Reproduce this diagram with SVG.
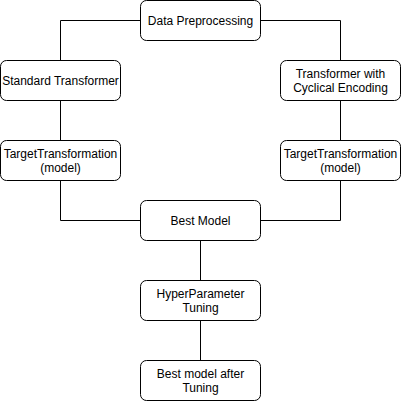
<svg xmlns="http://www.w3.org/2000/svg" width="401" height="401" viewBox="0 0 401 401">
<style>
.box{fill:#fff;stroke:#000;stroke-width:1}
.lbl{font-family:"Liberation Sans",Arial,sans-serif;font-size:12px;fill:#000;text-anchor:middle}
.edge{fill:none;stroke:#000;stroke-width:1}
</style>
<rect width="401" height="401" fill="#fff"/>
<g id="connectors">
<path class="edge" d="M140.5 20.5H60.5V60.5"/>
<path class="edge" d="M260.5 20.5H340.5V60.5"/>
<path class="edge" d="M60.5 100.5V140.5"/>
<path class="edge" d="M340.5 100.5V140.5"/>
<path class="edge" d="M60.5 180.5V220.5H140.5"/>
<path class="edge" d="M340.5 180.5V220.5H260.5"/>
<path class="edge" d="M200.5 240.5V280.5"/>
<path class="edge" d="M200.5 320.5V360.5"/>
</g>
<g id="data-preprocessing">
<rect class="box" x="140.5" y="0.5" width="120" height="40" rx="6"/>
<text class="lbl" x="200.5" y="24.5">Data Preprocessing</text>
</g>
<g id="standard-transformer">
<rect class="box" x="0.5" y="60.5" width="120" height="40" rx="6"/>
<text class="lbl" x="60.5" y="84.5">Standard Transformer</text>
</g>
<g id="cyclical-transformer">
<rect class="box" x="280.5" y="60.5" width="120" height="40" rx="6"/>
<text class="lbl" x="340.5" y="77.5">Transformer with</text>
<text class="lbl" x="340.5" y="91.5">Cyclical Encoding</text>
</g>
<g id="target-left">
<rect class="box" x="0.5" y="140.5" width="120" height="40" rx="6"/>
<text class="lbl" x="60.5" y="157.5">TargetTransformation</text>
<text class="lbl" x="60.5" y="171.5">(model)</text>
</g>
<g id="target-right">
<rect class="box" x="280.5" y="140.5" width="120" height="40" rx="6"/>
<text class="lbl" x="340.5" y="157.5">TargetTransformation</text>
<text class="lbl" x="340.5" y="171.5">(model)</text>
</g>
<g id="best-model">
<rect class="box" x="140.5" y="200.5" width="120" height="40" rx="6"/>
<text class="lbl" x="200.5" y="224.5">Best Model</text>
</g>
<g id="hyperparameter-tuning">
<rect class="box" x="140.5" y="280.5" width="120" height="40" rx="6"/>
<text class="lbl" x="200.5" y="297.5">HyperParameter</text>
<text class="lbl" x="200.5" y="311.5">Tuning</text>
</g>
<g id="best-model-after">
<rect class="box" x="140.5" y="360.5" width="120" height="40" rx="6"/>
<text class="lbl" x="200.5" y="377.5">Best model after</text>
<text class="lbl" x="200.5" y="391.5">Tuning</text>
</g>
</svg>
